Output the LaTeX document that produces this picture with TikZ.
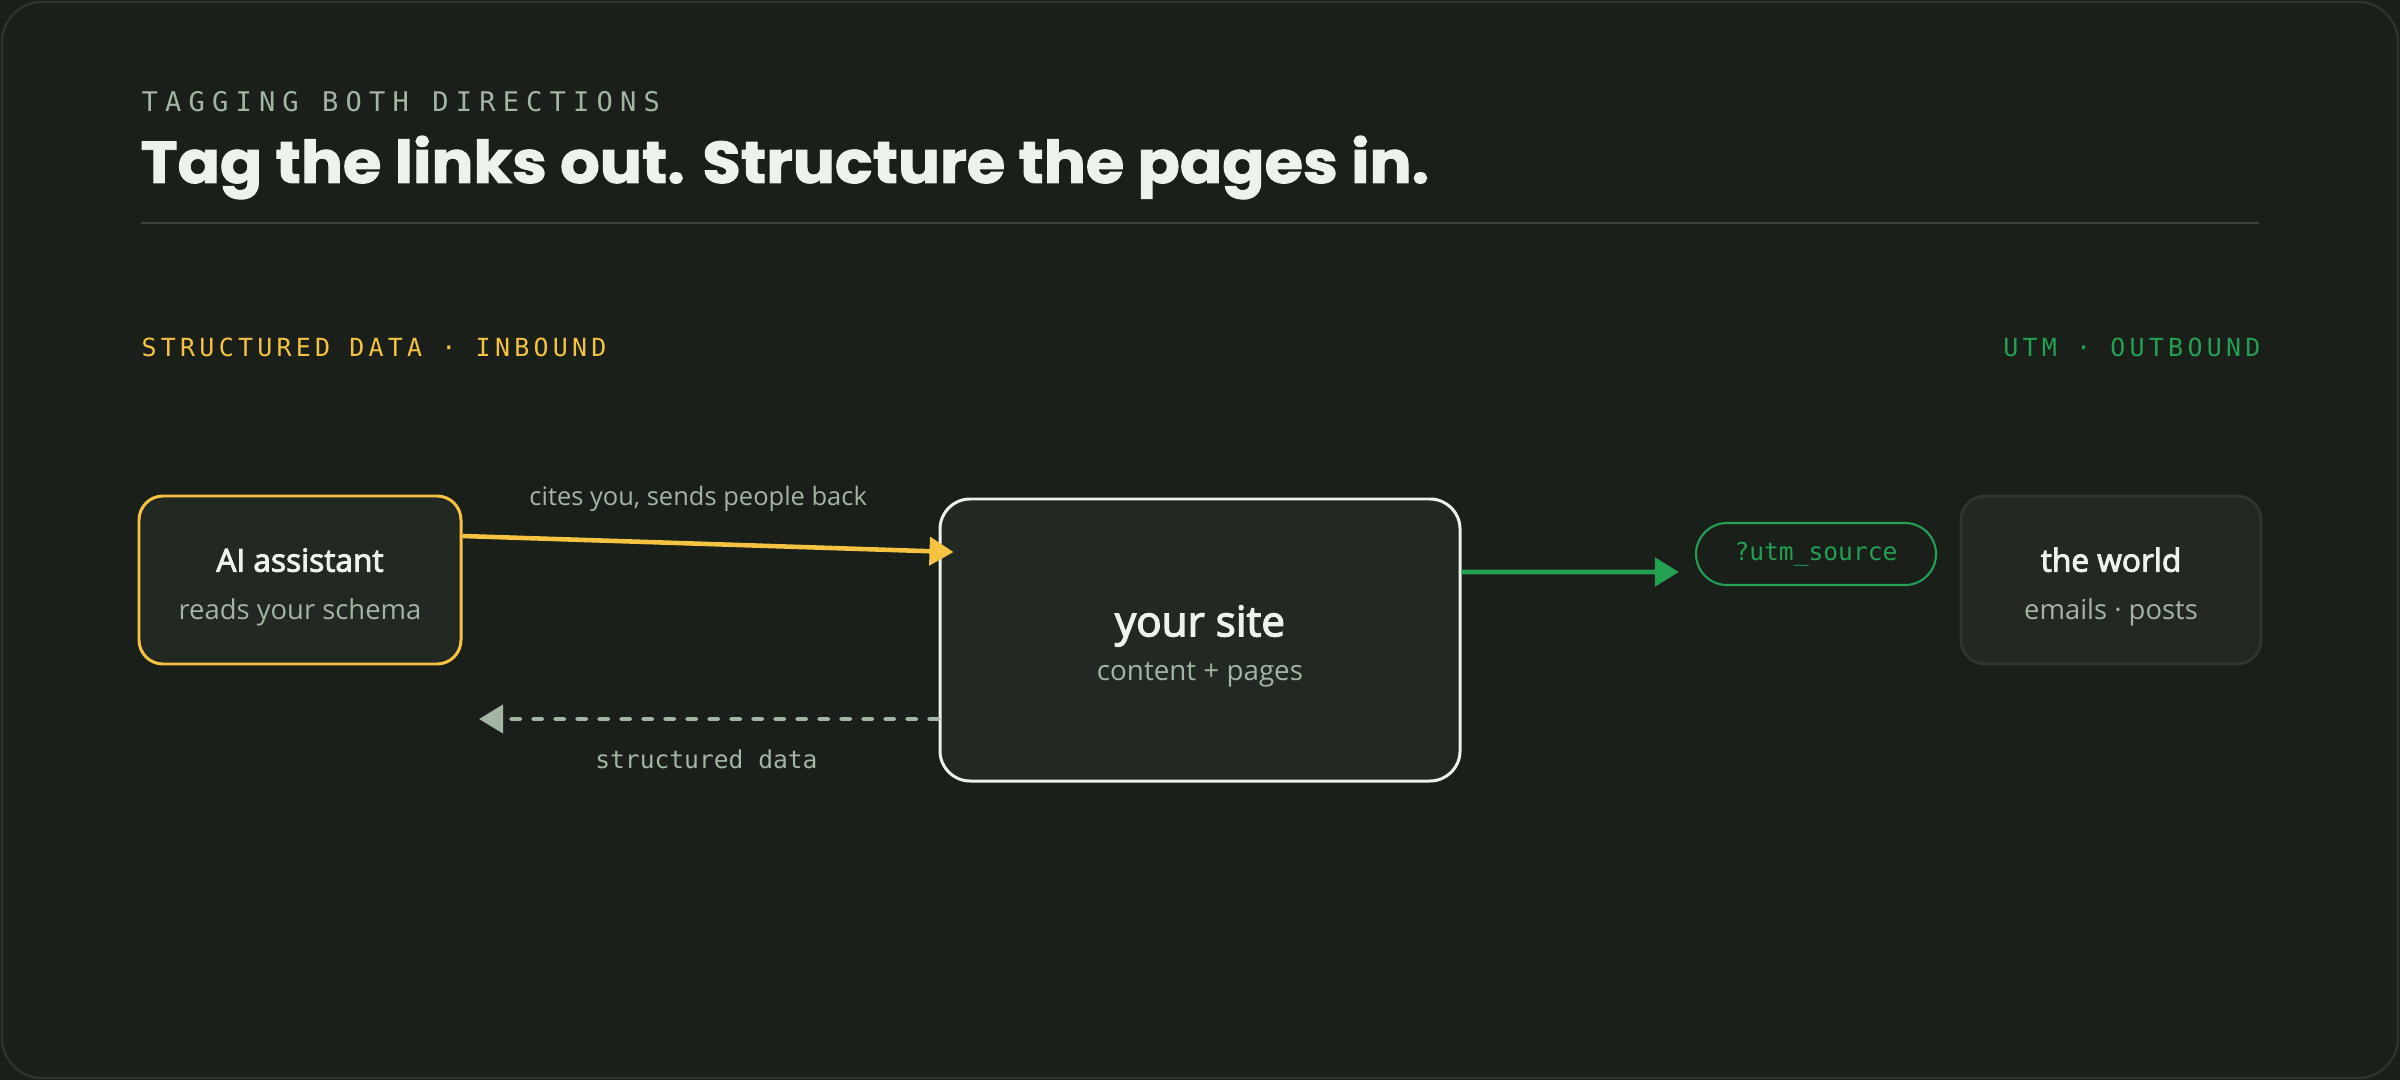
\documentclass[tikz,border=0pt]{standalone}
\usepackage{fontspec}
\setmainfont{Open Sans}
\newfontfamily\strongfont{Open Sans}[FakeBold=3]
\newfontfamily\headfont{Poppins}[FakeStretch=1.06, FakeBold=1.6]
\newfontfamily\codefont{DejaVu Sans Mono}
\newfontfamily\kickerfont{DejaVu Sans Mono}[LetterSpace=26.5]
\newfontfamily\tagfont{DejaVu Sans Mono}[LetterSpace=17]
\usetikzlibrary{arrows.meta}

\definecolor{bgc}{HTML}{1A1F1A}
\definecolor{framec}{HTML}{2E352D}
\definecolor{rulec}{HTML}{3A4439}
\definecolor{boxc}{HTML}{222822}
\definecolor{worldc}{HTML}{232823}
\definecolor{worldedge}{HTML}{2F352F}
\definecolor{yellowc}{HTML}{F5C242}
\definecolor{greenc}{HTML}{23A052}
\definecolor{mutedc}{HTML}{A3B5A3}
\definecolor{whitec}{HTML}{EEF2EC}

\begin{document}
\begin{tikzpicture}
\useasboundingbox (0,0) rectangle (24,-10.8);
\fill[bgc] (0,0) rectangle (24,-10.8);
\draw[framec, line width=0.6pt, rounded corners=4mm] (0.02,-0.02) rectangle (23.98,-10.78);

\begin{scope}[every node/.style={inner sep=0pt}]
    \node (kicker) at (1.41,-1.12) [anchor=base west, text=mutedc, font=\kickerfont\fontsize{7.7}{9}\selectfont] {TAGGING BOTH DIRECTIONS};
    \node (title) at (1.40,-1.83) [anchor=base west, text=whitec, font=\headfont\bfseries\fontsize{16.75}{19}\selectfont] {Tag the links out. Structure the pages in.};

    \node (inbound) at (1.41,-3.57) [anchor=base west, text=yellowc, font=\tagfont\fontsize{7.1}{9}\selectfont] {STRUCTURED DATA · INBOUND};
    \node (outbound) at (22.61,-3.57) [anchor=base east, text=greenc, font=\tagfont\fontsize{7.1}{9}\selectfont] {UTM · OUTBOUND};
\end{scope}
\draw[rulec, line width=0.5pt] (1.41,-2.23) -- (22.59,-2.23);

\begin{scope}[every node/.style={rectangle,rounded corners=2.4mm,line width=0.85pt,align=center,text=whitec}]
    \node (ai) at (3.00,-5.80) [draw=yellowc, fill=boxc, minimum width=3.22cm, minimum height=1.68cm, font=\fontsize{9}{10}\selectfont]
        {\rule{0pt}{3.8mm}{\strongfont AI assistant}\\[1.3mm]{\color{mutedc}\fontsize{7.8}{9}\selectfont reads your schema}};

    \node (site) at (12.00,-6.40) [draw=whitec, fill=boxc, rounded corners=3mm, minimum width=5.20cm, minimum height=2.82cm, font=\fontsize{12}{13}\selectfont]
        {\rule{0pt}{4.35mm}{\strongfont your site}\\[-0.15mm]{\color{mutedc}\fontsize{7.9}{9}\selectfont content + pages}};

    \node (utm) at (18.16,-5.54) [draw=greenc, fill=bgc, line width=0.6pt, rounded corners=3.1mm, minimum width=2.40cm, minimum height=0.62cm, text=greenc, font=\codefont\fontsize{7}{8}\selectfont] {?utm\_source};

    \node (world) at (21.11,-5.80) [draw=worldedge, fill=worldc, minimum width=3.00cm, minimum height=1.68cm, font=\fontsize{9}{10}\selectfont]
        {\rule{0pt}{3.8mm}{\strongfont the world}\\[1.3mm]{\color{mutedc}\fontsize{7.8}{9}\selectfont emails · posts}};
\end{scope}

\coordinate (back) at (4.79,-7.19);

\begin{scope}[>={Triangle[length=2.4mm,width=2.8mm]},
              every edge/.style={draw,line width=1.3pt}]
    \path [->] ([yshift=4.4mm]ai.east) edge[yellowc] node[pos=0.48, yshift=4.5mm, text=mutedc, font=\fontsize{7.25}{8}\selectfont] {cites you, sends people back} ([xshift=1.5mm,yshift=8.8mm]site.west);
    \path [->] ([yshift=-7.9mm]site.west) edge[mutedc, line width=1.1pt, line cap=round, dash pattern=on 0.95mm off 1.25mm] node[pos=0.505, yshift=-4mm, text=mutedc, font=\codefont\fontsize{7}{8}\selectfont] {structured data} (back);
    \path [->] ([yshift=6.8mm]site.east) edge[greenc] ([xshift=-1.6mm,yshift=-1.8mm]utm.west);
\end{scope}
\end{tikzpicture}
\end{document}
